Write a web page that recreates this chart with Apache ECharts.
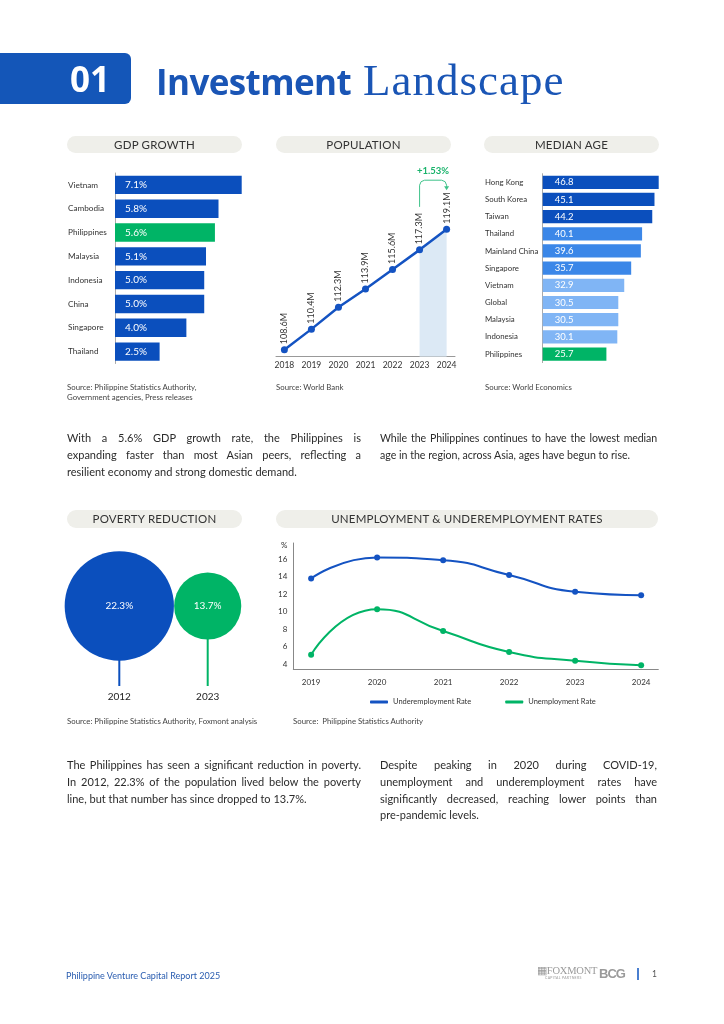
<!DOCTYPE html>
<html>
<head>
<meta charset="utf-8">
<script src="https://cdn.jsdelivr.net/npm/echarts@6/dist/echarts.min.js"></script>
<style>
  html, body { margin:0; padding:0; background:#fff; }
  #page { position:relative; width:724px; height:1024px; overflow:hidden; font-family: Lato, "Noto Sans", sans-serif; color:#2b2b2b; }
  #chart { position:absolute; left:0; top:0; width:724px; height:1024px; }
  .abs { position:absolute; }
  .pill { position:absolute; background:#efefea; border-radius:9px; text-align:center; font-size:11.5px; color:#333; letter-spacing:0.2px; }
  .src { position:absolute; font-size:7.8px; color:#444; line-height:10px; white-space:nowrap; }
  .para { position:absolute; font-size:11px; line-height:16.8px; color:#2b2b2b; }
  .para div { white-space:nowrap; }
  .para div.j { text-align:justify; text-align-last:justify; }
  .overlay { position:absolute; left:0; top:0; width:724px; height:1024px; pointer-events:none; }
</style>
</head>
<body>
<div id="page">
  <div id="chart"></div>
  <div class="overlay">
    <div class="abs" style="left:0;top:53px;width:131px;height:51px;background:#1456b8;border-radius:0 6px 6px 0;"></div>
    <div class="abs" style="left:60px;top:53px;width:60px;height:51px;line-height:51px;text-align:center;color:#fff;font-family:'Open Sans',sans-serif;font-weight:700;font-size:35px;">01</div>
    <div class="abs" style="left:156px;top:55px;height:50px;line-height:50px;white-space:nowrap;color:#1a55b5;">
      <span style="font-family:'Open Sans',sans-serif;font-weight:700;font-size:35px;letter-spacing:-0.6px;">Investment</span><span style="font-family:'Liberation Serif',serif;font-size:45px;letter-spacing:1px;margin-left:12px;">Landscape</span>
    </div>

    <div class="pill" style="left:67px;top:136px;width:175px;height:17px;line-height:17px;">GDP GROWTH</div>
    <div class="pill" style="left:276px;top:136px;width:175px;height:17px;line-height:17px;">POPULATION</div>
    <div class="pill" style="left:484px;top:136px;width:175px;height:17px;line-height:17px;">MEDIAN AGE</div>
    <div class="pill" style="left:67px;top:510px;width:175px;height:18px;line-height:18px;">POVERTY REDUCTION</div>
    <div class="pill" style="left:276px;top:510px;width:382px;height:18px;line-height:18px;">UNEMPLOYMENT &amp; UNDEREMPLOYMENT RATES</div>

    <div class="src" style="left:67px;top:382px;">Source: Philippine Statistics Authority,<br>Government agencies, Press releases</div>
    <div class="src" style="left:276px;top:382px;">Source: World Bank</div>
    <div class="src" style="left:485px;top:382px;">Source: World Economics</div>
    <div class="src" style="left:67px;top:716px;">Source: Philippine Statistics Authority, Foxmont analysis</div>
    <div class="src" style="left:293px;top:716px;">Source:&nbsp; Philippine Statistics Authority</div>

    <div class="para" style="left:67px;top:430px;width:294px;">
      <div class="j">With a 5.6% GDP growth rate, the Philippines is</div>
      <div class="j">expanding faster than most Asian peers, reflecting a</div>
      <div>resilient economy and strong domestic demand.</div>
    </div>
    <div class="para" style="left:380px;top:430px;width:277px;font-size:10.6px;">
      <div class="j" style="letter-spacing:-0.1px;">While the Philippines continues to have the lowest median</div>
      <div>age in the region, across Asia, ages have begun to rise.</div>
    </div>
    <div class="para" style="left:67px;top:757px;width:294px;">
      <div class="j">The Philippines has seen a significant reduction in poverty.</div>
      <div class="j">In 2012, 22.3% of the population lived below the poverty</div>
      <div>line, but that number has since dropped to 13.7%.</div>
    </div>
    <div class="para" style="left:380px;top:757px;width:277px;">
      <div class="j">Despite peaking in 2020 during COVID-19,</div>
      <div class="j">unemployment and underemployment rates have</div>
      <div class="j">significantly decreased, reaching lower points than</div>
      <div>pre-pandemic levels.</div>
    </div>

    <div class="abs" style="left:66px;top:970px;font-size:9px;color:#2a5db0;white-space:nowrap;">Philippine Venture Capital Report 2025</div>
    <div class="abs" style="left:537px;top:966px;color:#9a9a9a;white-space:nowrap;">
      <div style="font-family:'Liberation Serif',serif;font-size:10.5px;line-height:10px;letter-spacing:-0.2px;">&#9638;FOXMONT</div>
      <div style="font-size:3.5px;line-height:5px;margin-left:8px;letter-spacing:0.3px;">CAPITAL PARTNERS</div>
    </div>
    <div class="abs" style="left:599px;top:966px;font-family:'Liberation Sans',sans-serif;font-weight:700;font-size:13px;color:#9a9a9a;letter-spacing:-1px;">BCG</div>
    <div class="abs" style="left:637px;top:968px;width:1.5px;height:12px;background:#4a7fd0;"></div>
    <div class="abs" style="left:652px;top:969px;font-size:8.5px;color:#555;">1</div>
  </div>
</div>
<script>
// ---------------- DATA ----------------
const gdpCountries = ['Vietnam','Cambodia','Philippines','Malaysia','Indonesia','China','Singapore','Thailand'];
const gdpGrowth = [7.1, 5.8, 5.6, 5.1, 5.0, 5.0, 4.0, 2.5];

const popYears = [2018, 2019, 2020, 2021, 2022, 2023, 2024];
const popMillions = [108.6, 110.4, 112.3, 113.9, 115.6, 117.3, 119.1];
const popGrowthLabel = '+1.53%';

const ageCountries = ['Hong Kong','South Korea','Taiwan','Thailand','Mainland China','Singapore','Vietnam','Global','Malaysia','Indonesia','Philippines'];
const medianAge = [46.8, 45.1, 44.2, 40.1, 39.6, 35.7, 32.9, 30.5, 30.5, 30.1, 25.7];

const povertyYears = ['2012', '2023'];
const povertyRate = [22.3, 13.7];

const rateYears = [2019, 2020, 2021, 2022, 2023, 2024];
const underemployment = [13.8, 16.2, 15.9, 14.2, 12.3, 11.9];
const unemployment = [5.1, 10.3, 7.8, 5.4, 4.4, 3.9];
const rateTicks = [4, 6, 8, 10, 12, 14, 16];

// ---------------- STYLE ----------------
const BLUE = '#0b4fbd', GREEN = '#00b466', MID = '#3b87e8', LIGHT = '#80b5f5';
const LINE_BLUE = '#1453c2', AREA = '#dce9f5', ARROW = '#3fc38a';
const FONT = 'Lato';
const HIGHLIGHT = 'Philippines';
const STEM_LEVEL = 1;          // height (in axis units) where the bubbles sit
const PX_PER_POINT = 4.9;      // bubble diameter per percentage point

const chart = echarts.init(document.getElementById('chart'), null, {renderer: 'canvas'});

const catAxisBase = (cats, margin, fs) => ({
  type: 'category', data: cats, inverse: true,
  axisLine: {show: true, lineStyle: {color: '#aaa', width: 1}},
  axisTick: {show: false},
  axisLabel: {align: 'left', margin: margin, fontSize: fs, color: '#333', fontFamily: FONT}
});

const option = {
  animation: false,
  textStyle: {fontFamily: FONT},
  grid: [
    {left: 115, top: 173, width: 126.7, height: 190.5},                  // GDP
    {left: 276, top: 172.9, right: 269, bottom: 667.3},                  // population
    {left: 542.7, top: 173.7, width: 116, height: 188.9},                // median age
    {left: 75.1, top: 526, width: 176.8, height: 160},                   // poverty
    {left: 293.3, top: 543, right: 65.7, bottom: 354.7}                  // rates
  ],
  xAxis: [
    {gridIndex: 0, type: 'value', min: 0, max: Math.max(...gdpGrowth), show: false},
    {gridIndex: 1, type: 'value', min: 2017.69, max: 2024.31,
      axisLine: {show: true, lineStyle: {color: '#999'}}, axisTick: {show: false}, splitLine: {show: false},
      axisLabel: {customValues: popYears, formatter: v => String(v), margin: 4, fontSize: 8.5, color: '#333'}},
    {gridIndex: 2, type: 'value', min: 0, max: Math.max(...medianAge), show: false},
    {gridIndex: 3, type: 'category', data: povertyYears,
      axisLine: {show: false}, axisTick: {show: false},
      axisLabel: {margin: 6, fontSize: 10, color: '#222'}},
    {gridIndex: 4, type: 'value', min: 2018.73, max: 2024.26,
      axisLine: {show: true, lineStyle: {color: '#888'}}, axisTick: {show: false}, splitLine: {show: false},
      axisLabel: {customValues: rateYears, formatter: v => String(v), margin: 9, fontSize: 8, color: '#333'}}
  ],
  yAxis: [
    Object.assign({gridIndex: 0}, catAxisBase(gdpCountries, 47, 8.2)),
    {gridIndex: 1, type: 'value', min: 108, max: 124, show: false},
    Object.assign({gridIndex: 2}, catAxisBase(ageCountries, 57.7, 7.8)),
    {gridIndex: 3, type: 'value', min: 0, max: 2, show: false},
    {gridIndex: 4, type: 'value', min: 3.43, max: 17.86,
      axisLine: {show: true, lineStyle: {color: '#888'}}, axisTick: {show: false}, splitLine: {show: false},
      axisLabel: {customValues: rateTicks.concat([17.55]), formatter: v => v > 17 ? '%' : String(v),
        margin: 6, fontSize: 8, color: '#333'}}
  ],
  legend: {
    data: ['Underemployment Rate', 'Unemployment Rate'],
    left: 365, top: 693, itemWidth: 18, itemHeight: 3, itemGap: 34, icon: 'roundRect',
    textStyle: {fontSize: 7.5, color: '#333', fontFamily: FONT}
  },
  series: [
    {
      type: 'bar', xAxisIndex: 0, yAxisIndex: 0, data: gdpGrowth, barCategoryGap: '23%',
      itemStyle: {color: p => gdpCountries[p.dataIndex] === HIGHLIGHT ? GREEN : BLUE},
      label: {show: true, position: 'insideLeft', distance: 10, color: '#fff', fontSize: 10,
        formatter: p => p.value.toFixed(1) + '%'}
    },
    {
      type: 'line', xAxisIndex: 1, yAxisIndex: 1, z: 1, silent: true,
      data: popYears.map((y, i) => [y, popMillions[i]]).filter(d => d[0] >= 2023),
      symbol: 'none', lineStyle: {width: 0}, areaStyle: {color: AREA, opacity: 1}
    },
    {
      type: 'line', xAxisIndex: 1, yAxisIndex: 1, z: 3,
      data: popYears.map((y, i) => [y, popMillions[i]]),
      symbol: 'circle', symbolSize: 7, itemStyle: {color: LINE_BLUE},
      lineStyle: {width: 2.5, color: LINE_BLUE},
      label: {show: true, position: 'top', rotate: 90, align: 'left', verticalAlign: 'middle', distance: 2,
        fontSize: 9, color: '#333', formatter: p => p.value[1].toFixed(1) + 'M'}
    },
    {
      type: 'bar', xAxisIndex: 2, yAxisIndex: 2, data: medianAge, barCategoryGap: '23%',
      itemStyle: {color: p => ageCountries[p.dataIndex] === HIGHLIGHT ? GREEN :
        (p.value >= 44 ? BLUE : (p.value >= 35 ? MID : LIGHT))},
      label: {show: true, position: 'insideLeft', distance: 12, color: '#fff', fontSize: 9.5,
        formatter: p => p.value.toFixed(1)}
    },
    {
      type: 'bar', xAxisIndex: 3, yAxisIndex: 3, z: 1, barWidth: 2,
      data: povertyYears.map(() => STEM_LEVEL),
      itemStyle: {color: p => p.dataIndex === 0 ? BLUE : GREEN}
    },
    {
      type: 'scatter', xAxisIndex: 3, yAxisIndex: 3, z: 3,
      data: povertyYears.map((y, i) => [y, STEM_LEVEL, povertyRate[i]]),
      symbolSize: d => d[2] * PX_PER_POINT,
      itemStyle: {opacity: 1, color: p => p.dataIndex === 0 ? BLUE : GREEN},
      label: {show: true, position: 'inside', color: '#fff', fontSize: 10, formatter: p => p.value[2] + '%'}
    },
    {
      name: 'Underemployment Rate', type: 'line', xAxisIndex: 4, yAxisIndex: 4, smooth: 0.55,
      data: rateYears.map((y, i) => [y, underemployment[i]]),
      symbol: 'circle', symbolSize: 6, itemStyle: {color: LINE_BLUE}, lineStyle: {width: 2, color: LINE_BLUE}
    },
    {
      name: 'Unemployment Rate', type: 'line', xAxisIndex: 4, yAxisIndex: 4, smooth: 0.55,
      data: rateYears.map((y, i) => [y, unemployment[i]]),
      symbol: 'circle', symbolSize: 6, itemStyle: {color: GREEN}, lineStyle: {width: 2, color: GREEN}
    }
  ]
};
chart.setOption(option);

// growth annotation between the last two population points
const lastI = popYears.length - 1;
const pA = chart.convertToPixel({gridIndex: 1}, [popYears[lastI - 1], popMillions[lastI - 1]]);
const pB = chart.convertToPixel({gridIndex: 1}, [popYears[lastI], popMillions[lastI]]);
const topY = pB[1] - 49, startY = pA[1] - 43, endY = pB[1] - 39;
chart.setOption({
  graphic: [
    {type: 'polyline', silent: true, shape: {points: [
      [pA[0], startY], [pA[0], topY + 5], [pA[0] + 1.5, topY + 1.5], [pA[0] + 5, topY],
      [pB[0] - 5, topY], [pB[0] - 1.5, topY + 1.5], [pB[0], topY + 5], [pB[0], endY - 3]]},
      style: {stroke: ARROW, lineWidth: 1, fill: null}},
    {type: 'polygon', silent: true, shape: {points: [[pB[0] - 2.5, endY - 4], [pB[0] + 2.5, endY - 4], [pB[0], endY]]},
      style: {fill: ARROW}},
    {type: 'text', silent: true, x: (pA[0] + pB[0]) / 2, y: topY - 9,
      style: {text: popGrowthLabel, fill: '#19b36b', font: 'bold 9.5px Lato', align: 'center', verticalAlign: 'middle'}}
  ]
});
</script>
</body>
</html>
